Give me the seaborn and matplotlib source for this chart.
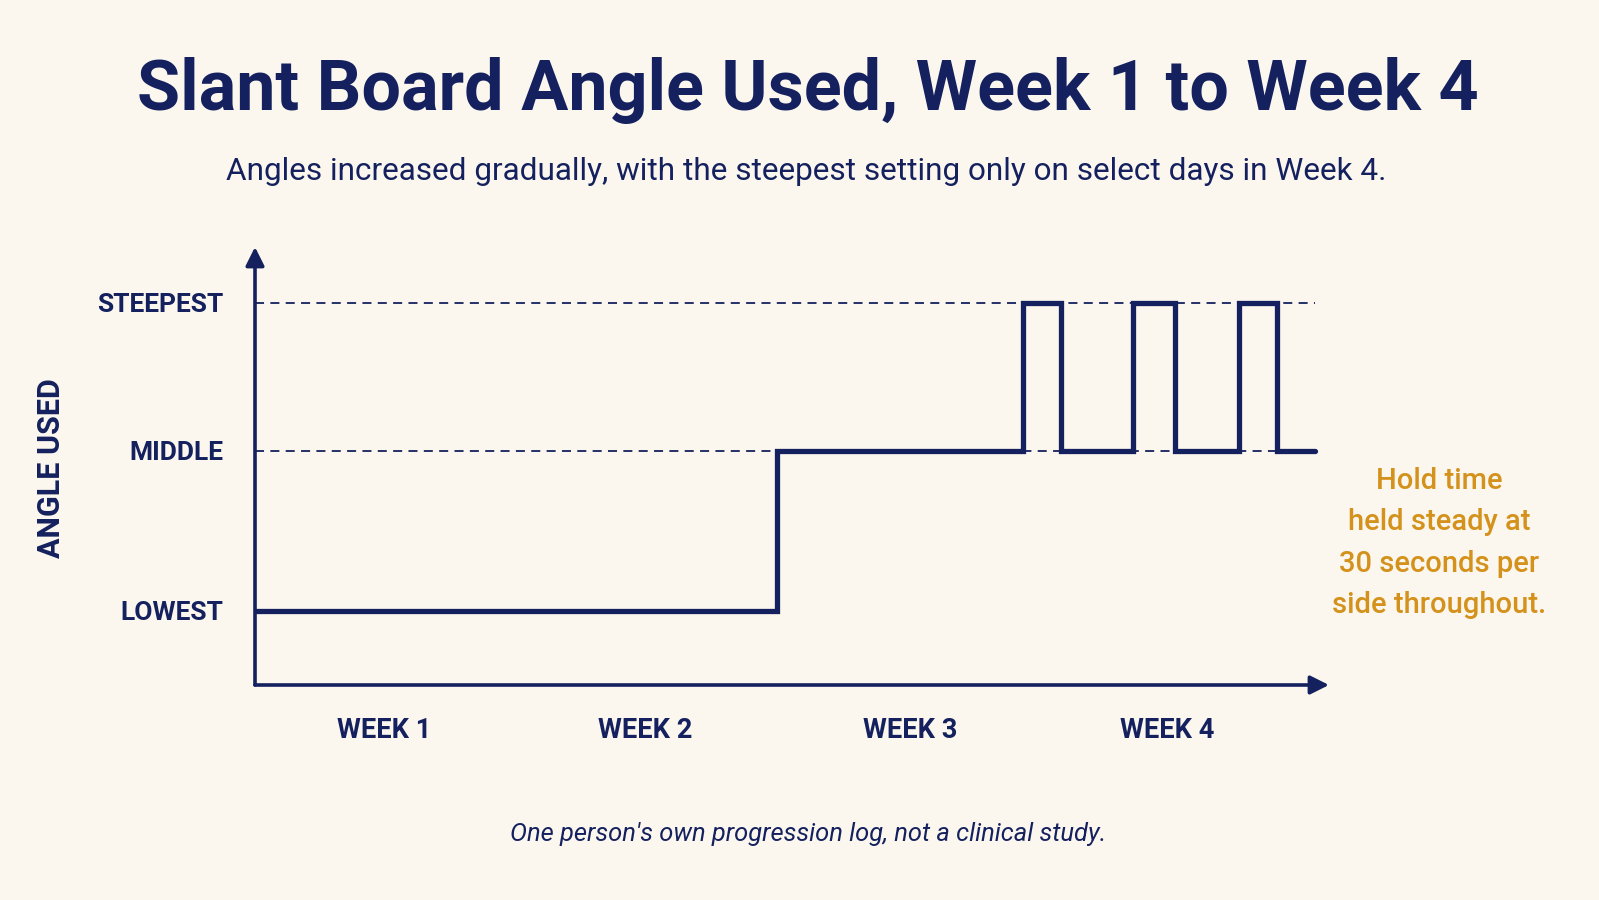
import matplotlib
matplotlib.use('Agg')
import matplotlib.pyplot as plt
import seaborn as sns
import pandas as pd

# ---- data (x in days since start) ----
day = [0, 13.8, 20.3, 21.3, 23.2, 24.3, 26.0, 27.0, 28.0]
level = [0, 1, 2, 1, 2, 1, 2, 1, 1]          # index into level_names
level_names = ['LOWEST', 'MIDDLE', 'STEEPEST']
level_height = [0, 1, 1.925]                 # relative height of each setting as drawn
week_names = ['WEEK 1', 'WEEK 2', 'WEEK 3', 'WEEK 4']
week_ticks = [3.4, 10.3, 17.3, 24.1]

NAVY = '#14215e'
GOLD = '#d4921c'
BG = '#fbf7ee'

sns.set_theme(style='white')
plt.rcParams['font.family'] = ['Roboto', 'DejaVu Sans']

df = pd.DataFrame({'day': day, 'angle': [level_height[i] for i in level]})

fig = plt.figure(figsize=(15.99, 9), dpi=100, facecolor=BG)
ax = fig.add_axes([255 / 1599, 1 - 685 / 900, 1074 / 1599, (685 - 247) / 900])
ax.set_facecolor(BG)

# dashed reference lines for middle / steepest
ax.hlines(level_height[1:], 0, day[-1], colors=NAVY,
          linestyles=(0, (5, 3.5)), lw=1.3, zorder=1)

sns.lineplot(data=df, x='day', y='angle', ax=ax, color=NAVY, lw=3.8,
             drawstyle='steps-post', sort=False, zorder=3,
             solid_capstyle='round', solid_joinstyle='miter')

ax.set_xlim(0, 28.37)
ax.set_ylim(-0.4625, 2.275)
for s in ax.spines.values():
    s.set_visible(False)

# axes with arrow heads
arrow = dict(arrowstyle='-|>', color=NAVY, lw=2.6, mutation_scale=28,
             shrinkA=0, shrinkB=0)
ax.annotate('', xy=(1, 0), xytext=(0, 0), xycoords='axes fraction',
            arrowprops=arrow)
ax.annotate('', xy=(0, 1), xytext=(0, 0), xycoords='axes fraction',
            arrowprops=arrow)

ax.set_yticks(level_height)
ax.set_yticklabels(level_names)
ax.set_xticks(week_ticks)
ax.set_xticklabels(week_names)
ax.tick_params(axis='both', length=0, colors=NAVY)
ax.tick_params(axis='y', pad=23, labelsize=19)
ax.tick_params(axis='x', pad=23, labelsize=19.6)
for t in ax.get_xticklabels() + ax.get_yticklabels():
    t.set_fontweight('bold')
    t.set_color(NAVY)
ax.set_xlabel('')
ax.set_ylabel('')

fig.text(51 / 1599, 1 - 468 / 900, 'ANGLE USED', rotation=90, ha='center',
         va='center', fontsize=22, fontweight='bold', color=NAVY)

fig.text(808 / 1599, 1 - 91 / 900, 'Slant Board Angle Used, Week 1 to Week 4',
         ha='center', va='center', fontsize=50.5, fontweight='bold', color=NAVY)
fig.text(806 / 1599, 1 - 172 / 900,
         'Angles increased gradually, with the steepest setting only on select days in Week 4.',
         ha='center', va='center', fontsize=22.7, color=NAVY)

fig.text(1439 / 1599, 1 - 543 / 900,
         'Hold time\nheld steady at\n30 seconds per\nside throughout.',
         ha='center', va='center', fontsize=21, fontweight='medium',
         color=GOLD, linespacing=1.62)

fig.text(808 / 1599, 1 - 834 / 900,
         "One person's own progression log, not a clinical study.",
         ha='center', va='center', fontsize=18.4, style='italic', color=NAVY)

fig.savefig('out.png', dpi=100, facecolor=BG)
